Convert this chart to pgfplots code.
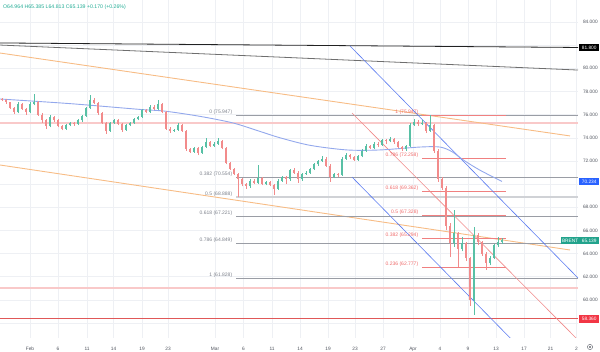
\documentclass[border=0pt]{standalone}
\usepackage{fontspec}
\setmainfont{Liberation Sans}
\usepackage{pgfplots}
\pgfplotsset{compat=1.18}
\usepackage{pgfplotstable}

\definecolor{gridc}{HTML}{EEF0F4}
\definecolor{labc}{HTML}{50545E}
\definecolor{upc}{HTML}{58C0A5}
\definecolor{dnc}{HTML}{F28B8B}
\definecolor{blackl}{HTML}{222222}
\definecolor{grayl}{HTML}{6E6E6E}
\definecolor{orangec}{HTML}{F7BC85}
\definecolor{mac}{HTML}{93A8EC}
\definecolor{chblue}{HTML}{5B7BF0}
\definecolor{midred}{HTML}{F08A8A}
\definecolor{fibgray}{HTML}{9A9DA5}
\definecolor{fibtext}{HTML}{7E828C}
\definecolor{fibgraylt}{HTML}{D0D2D6}
\definecolor{fibred}{HTML}{F08080}
\definecolor{fibredtext}{HTML}{EE6A6A}
\definecolor{pinkc}{HTML}{F9C9C9}
\definecolor{redline}{HTML}{E05858}
\definecolor{hdr}{HTML}{22AB94}
\definecolor{boxblue}{HTML}{2962FF}
\definecolor{boxgreen}{HTML}{22A38C}
\definecolor{boxred}{HTML}{F23645}

\def\ustr{u}

\pgfplotstableread{
x o h l c d
2 77.35 77.45 77.15 77.25 d
6 77.25 77.35 76.95 77.05 d
10 77.05 77.1 76.5 76.6 d
14 76.6 76.7 76.05 76.2 d
18 76.2 77.05 76.1 76.9 u
22 76.9 77.0 76.4 76.5 d
26 76.5 76.6 76.0 76.2 d
30 76.2 77.1 76.1 76.9 u
34 76.9 77.8 76.8 77.1 u
38 77.1 77.2 75.9 76.0 d
42 76.0 76.1 75.3 75.5 d
46 75.5 75.6 74.75 75.0 d
50 75.0 76.0 74.9 75.8 u
54 75.8 75.9 75.4 75.5 d
58 75.5 75.6 74.9 75.0 d
62 75.0 75.1 74.65 74.8 d
66 74.8 75.2 74.7 75.1 u
70 75.1 75.4 75.0 75.3 u
74 75.3 75.4 75.05 75.2 d
78 75.2 75.6 75.1 75.5 u
82 75.5 76.0 75.4 75.9 u
86 75.9 76.7 75.8 76.6 u
90 76.6 77.7 76.5 77.3 u
94 77.3 77.45 76.9 77.0 d
98 77.0 77.1 76.0 76.1 d
102 76.1 76.2 75.2 75.3 d
106 75.3 75.4 74.35 74.6 d
110 74.6 75.4 74.5 75.3 u
114 75.3 75.6 75.2 75.5 u
118 75.5 75.6 75.1 75.2 d
122 75.2 75.3 74.5 74.7 d
126 74.7 75.2 74.6 75.1 u
130 75.1 75.4 75.0 75.3 u
134 75.3 75.7 75.2 75.6 u
138 75.6 75.9 75.5 75.8 u
142 75.8 76.5 75.7 76.4 u
146 76.4 76.5 76.1 76.2 d
150 76.2 76.8 76.1 76.7 u
154 76.7 76.8 76.4 76.5 d
158 76.5 77.3 76.4 76.9 u
162 76.9 77.0 76.1 76.2 d
166 76.2 76.3 74.7 74.8 d
170 74.8 74.9 74.4 74.6 d
174 74.6 74.8 74.5 74.7 u
178 74.7 75.3 74.6 75.1 u
182 75.1 75.2 74.5 74.6 d
186 74.6 74.7 72.9 73.0 d
190 73.0 73.1 72.7 72.8 d
194 72.8 73.2 72.7 73.1 u
198 73.1 73.2 72.5 72.7 d
202 72.7 73.3 72.6 73.2 u
206 73.2 74.0 73.1 73.6 u
210 73.6 73.7 73.2 73.3 d
214 73.3 73.6 73.2 73.5 u
218 73.5 74.0 73.4 73.7 u
222 73.7 73.8 73.0 73.1 d
226 73.1 73.2 71.7 71.8 d
230 71.8 71.9 71.2 71.3 d
234 71.3 71.4 70.8 70.9 d
238 70.9 71.0 68.85 70.4 d
242 70.4 70.5 69.8 70.0 d
246 70.0 70.1 69.6 69.8 d
250 69.8 70.4 69.7 70.3 u
254 70.3 70.4 70.0 70.1 d
258 70.1 71.65 70.0 70.5 u
262 70.5 70.6 69.9 70.0 d
266 70.0 70.3 69.9 70.2 u
270 70.2 70.3 69.8 69.9 d
274 69.9 70.0 69.06 69.6 d
278 69.6 70.4 69.5 70.3 u
282 70.3 70.7 70.2 70.6 u
286 70.6 70.7 70.0 70.4 d
290 70.4 71.3 70.3 71.2 u
294 71.2 71.4 70.9 71.0 d
298 71.0 71.1 70.1 70.4 d
302 70.4 71.0 70.3 70.9 u
306 70.9 71.1 70.8 71.0 u
310 71.0 71.4 70.9 71.3 u
314 71.3 71.8 71.2 71.7 u
318 71.7 72.1 71.6 72.0 u
322 72.0 72.4 71.9 72.2 u
326 72.2 72.3 71.5 71.6 d
330 71.6 71.7 70.2 70.6 d
334 70.6 71.0 70.5 70.9 u
338 70.9 71.0 70.6 70.8 d
342 70.8 72.3 70.7 72.2 u
346 72.2 72.7 72.1 72.5 u
350 72.5 72.6 72.2 72.3 d
354 72.3 72.4 72.0 72.1 d
358 72.1 72.5 72.0 72.4 u
362 72.4 73.0 72.3 72.9 u
366 72.9 73.5 72.8 73.3 u
370 73.3 73.4 73.0 73.1 d
374 73.1 73.6 73.0 73.5 u
378 73.5 73.6 73.2 73.4 d
382 73.4 73.9 73.3 73.8 u
386 73.8 73.9 73.5 73.7 d
390 73.7 74.05 73.6 73.9 u
394 73.9 74.0 73.5 73.6 d
398 73.6 73.7 73.1 73.2 d
402 73.2 73.3 72.9 73.0 d
406 73.0 73.4 72.9 73.3 u
410 73.3 75.3 73.2 75.1 u
414 75.1 75.6 75.0 75.4 u
418 75.4 75.5 75.0 75.2 d
422 75.2 75.5 75.1 75.3 u
426 75.3 75.4 74.4 74.6 d
430 74.6 75.947 74.5 75.1 u
434 75.1 75.2 72.7 72.9 d
438 72.9 73.0 70.2 70.4 d
442 70.4 70.6 69.5 69.7 d
446 69.7 69.8 66.0 66.4 d
450 66.4 66.6 63.7 64.9 d
454 64.9 67.8 64.6 65.8 u
458 65.8 65.9 62.8 64.4 d
462 64.4 65.4 64.2 64.9 u
466 64.9 65.0 63.4 63.6 d
470 63.6 63.7 59.5 60.0 d
474 60.0 66.3 58.71 65.6 u
478 65.6 65.8 64.7 65.0 d
482 65.0 65.1 63.8 64.0 d
486 64.0 64.1 62.6 63.2 d
490 63.2 63.8 63.0 63.6 u
494 63.6 64.8 63.5 64.7 u
498 64.7 65.4 64.6 64.964 u
502 64.964 65.385 64.813 65.139 u
}\candles

\begin{document}
\begin{tikzpicture}
\useasboundingbox (0pt,-14pt) rectangle (600pt,338pt);
\begin{axis}[
  at={(0pt,0pt)}, anchor=south west,
  width=578pt, height=338pt, scale only axis,
  xmin=0, xmax=578, ymin=56.71, ymax=85.90,
  axis line style={draw=none},
  major tick length=0pt,
  grid=major, grid style={color=gridc, line width=0.5pt},
  xtick={30,58,87,113.5,142,168,215,243.5,272,300,328,355,383,413,440,468,496,524,550.5,576.5},
  xticklabels={Feb,6,11,14,19,23,Mar,6,11,14,19,23,27,Apr,4,9,13,17,21,2},
  ytick={58,60,62,64,66,68,70,72,74,76,78,80,82,84},
  yticklabels={{},60.000,62.000,64.000,66.000,68.000,{},72.000,74.000,76.000,78.000,80.000,{},84.000},
  yticklabel pos=right,
  ticklabel style={font=\fontsize{4.8}{5}\selectfont, text=labc},
  yticklabel style={anchor=west, xshift=1.5pt},
  xticklabel style={yshift=-5.5pt},
]
% horizontal levels
\addplot[pinkc, line width=1.6pt] coordinates {(0,75.30) (578,75.30)};
\addplot[pinkc, line width=1.6pt] coordinates {(0,61.05) (578,61.05)};
\addplot[redline, line width=0.9pt] coordinates {(0,58.36) (578,58.36)};
% long trend lines
\addplot[blackl, line width=0.8pt] coordinates {(0,82.19) (578,81.80)};
\addplot[grayl, line width=0.8pt] coordinates {(0,82.01) (578,79.85)};
\addplot[orangec, line width=0.9pt] coordinates {(0,81.32) (570,74.16)};
\addplot[orangec, line width=0.9pt] coordinates {(0,71.65) (570,64.31)};
% left fib (gray)
\addplot[fibgray, line width=0.9pt] coordinates {(236,75.947) (578,75.947)};
\addplot[fibgray, line width=0.9pt] coordinates {(236,70.554) (578,70.554)};
\addplot[fibgraylt, line width=1.6pt] coordinates {(236,68.888) (578,68.888)};
\addplot[fibgray, line width=0.9pt] coordinates {(236,67.221) (578,67.221)};
\addplot[fibgray, line width=0.9pt] coordinates {(236,64.849) (578,64.849)};
\addplot[fibgray, line width=0.9pt] coordinates {(236,61.828) (578,61.828)};
% right fib (red)
\addplot[fibred, line width=0.8pt] coordinates {(422,75.947) (506,75.947)};
\addplot[fibred, line width=0.8pt] coordinates {(422,72.258) (506,72.258)};
\addplot[fibred, line width=0.8pt] coordinates {(422,69.362) (506,69.362)};
\addplot[fibred, line width=0.8pt] coordinates {(422,67.328) (506,67.328)};
\addplot[fibred, line width=0.8pt] coordinates {(422,65.294) (506,65.294)};
\addplot[fibred, line width=0.8pt] coordinates {(422,62.777) (506,62.777)};
% channel
\addplot[chblue, line width=0.6pt] coordinates {(350,81.93) (578,61.89)};
\addplot[midred, line width=0.6pt] coordinates {(352,76.14) (578,56.54)};
\addplot[chblue, line width=0.6pt] coordinates {(352,70.61) (578,50.75)};
% moving average
\addplot[mac, line width=0.9pt, smooth] coordinates {(0,77.35) (70,76.95) (140,76.45) (165,76.30) (200,75.85) (233,75.28) (260,74.55) (280,74.0) (310,73.35) (347,72.95) (380,72.95) (420,73.2) (440,73.2) (452,72.8) (463,72.1) (480,71.2) (502,70.23)};
% candles
\pgfplotsinvokeforeach{0,...,125}{%
  \pgfplotstablegetelem{#1}{x}\of\candles \edef\cx{\pgfplotsretval}%
  \pgfplotstablegetelem{#1}{o}\of\candles \edef\co{\pgfplotsretval}%
  \pgfplotstablegetelem{#1}{h}\of\candles \edef\ch{\pgfplotsretval}%
  \pgfplotstablegetelem{#1}{l}\of\candles \edef\cl{\pgfplotsretval}%
  \pgfplotstablegetelem{#1}{c}\of\candles \edef\cc{\pgfplotsretval}%
  \pgfplotstablegetelem{#1}{d}\of\candles \edef\cd{\pgfplotsretval}%
  \ifx\cd\ustr \def\ccol{upc}\else\def\ccol{dnc}\fi
  \edef\tmp{\noexpand\addplot[\ccol, line width=0.5pt, forget plot] coordinates {(\cx,\cl) (\cx,\ch)};%
    \noexpand\addplot[\ccol, line width=2.0pt, forget plot] coordinates {(\cx,\co) (\cx,\cc)};}%
  \tmp
}
% fib labels
\begin{scope}[every node/.style={font=\fontsize{5}{6}\selectfont, inner sep=0.6pt, anchor=south east}]
\node[text=fibtext] at (axis cs:233,75.947) {0 (75.947)};
\node[text=fibtext] at (axis cs:233,70.554) {0.382 (70.554)};
\node[text=fibtext] at (axis cs:233,68.888) {0.5 (68.888)};
\node[text=fibtext] at (axis cs:233,67.221) {0.618 (67.221)};
\node[text=fibtext] at (axis cs:233,64.849) {0.786 (64.849)};
\node[text=fibtext] at (axis cs:233,61.828) {1 (61.828)};
\node[text=fibredtext] at (axis cs:419,75.947) {1 (75.947)};
\node[text=fibredtext] at (axis cs:419,72.258) {0.786 (72.258)};
\node[text=fibredtext] at (axis cs:419,69.362) {0.618 (69.362)};
\node[text=fibredtext] at (axis cs:419,67.328) {0.5 (67.328)};
\node[text=fibredtext] at (axis cs:419,65.294) {0.382 (65.294)};
\node[text=fibredtext] at (axis cs:419,62.777) {0.236 (62.777)};
\end{scope}
\end{axis}
% header
\node[anchor=west, inner sep=0pt, text=hdr, font=\fontsize{5.2}{6}\selectfont] at (3pt,331pt) {O64.964 H65.385 L64.813 C65.139 +0.170 (+0.26\%)};
% price boxes
\begin{scope}[every node/.style={font=\fontsize{4.8}{5}\selectfont, text=white, inner sep=0.8pt, minimum height=7.5pt, minimum width=20pt, anchor=west}]
\node[fill=black] at (579pt,290.5pt) {81.800};
\node[fill=boxblue] at (579pt,156.6pt) {70.234};
\node[fill=boxgreen, minimum width=16pt] at (561pt,97.6pt) {BRENT};
\node[fill=boxgreen] at (579pt,97.6pt) {65.139};
\node[fill=boxred] at (579pt,19.1pt) {58.360};
\end{scope}
% settings icon
\draw[labc, line width=0.4pt] (590pt,-9pt) circle (2.6pt);
\draw[labc, line width=0.4pt] (590pt,-9pt) circle (0.9pt);
\end{tikzpicture}
\end{document}
